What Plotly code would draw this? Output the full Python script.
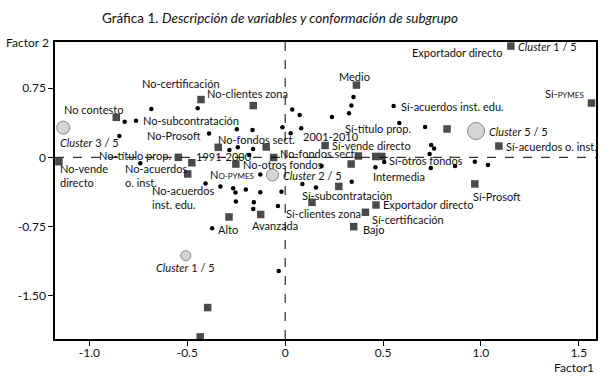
import plotly.graph_objects as go

# ---------------- data ----------------
# category squares (modalities)
sq_x = [1.153, 1.565, 0.827, 1.092, 0.969, 0.204, 0.364, -0.059, -0.252, 0.374,
        0.463, 0.494, 0.337, 0.274, 0.137, -0.125, 0.464, 0.410, 0.350, -0.287,
        -0.396, -0.434, -0.430, -0.163, -0.863, -1.156, -0.546, -0.477, -0.498,
        -0.342, -0.097]
sq_y = [1.206, 0.588, 0.307, 0.122, -0.289, 0.128, 0.783, -0.002, -0.073, 0.014,
        0.009, 0.009, -0.073, -0.316, -0.488, -0.620, -0.517, -0.596, -0.752, -0.647,
        -1.629, -1.947, 0.626, 0.561, 0.433, -0.048, 0.000, -0.059, -0.181,
        0.108, 0.112]
sq_labels = ["Exportador directo", "Sí-<span style='font-size:8px'>PYMES</span>", "",
             "Sí-acuerdos o. inst.", "Sí-Prosoft", "Sí-vende directo", "Medio",
             "No-fondos sect.", "No-otros fondos", "", "", "", "", "",
             "Sí-subcontratación", "Avanzada", "Exportador directo", "Sí-certificación",
             "Bajo", "", "", "", "No-clientes zona", "", "No contesto",
             "No-vende<br>directo", "No-título prop.", "1991-2000",
             "No-acuerdos<br>inst. edu.", "No-fondos sect.", ""]

# individual points (dots)
dot_x = [0.554, 0.349, 0.338, 0.326, 0.239, 0.074, 0.036, -0.014, 0.028, 0.082,
         0.583, 0.715, 0.746, 0.761, 0.738, 0.744, 0.868, 0.969, 1.036, 0.506,
         0.461, 0.186, 0.340, 0.088, 0.157, -0.037, -0.127, -0.407, -0.331, -0.266,
         -0.254, -0.201, -0.127, -0.019, -0.252, -0.160, -0.163, -0.373, -0.033,
         -0.740, -0.684, -0.447, -0.820, -0.762, -0.847, -0.389, -0.247, -0.167,
         -0.285, -0.242, -0.164, -0.184]
dot_y = [0.556, 0.653, 0.561, 0.477, 0.437, 0.458, 0.518, 0.325, 0.260, 0.314,
         0.372, 0.329, 0.133, 0.095, 0.036, -0.116, -0.094, -0.048, -0.083, -0.051,
         -0.108, -0.094, -0.264, -0.289, -0.327, -0.528, -0.186, -0.284, -0.316, -0.336,
         -0.381, -0.349, -0.379, -0.373, -0.479, -0.488, -0.560, -0.769, -1.232,
         -0.065, 0.523, 0.531, 0.386, 0.397, 0.231, 0.258, 0.303, 0.296,
         0.079, 0.108, 0.090, 0.025]
dot_labels = ["Sí-acuerdos inst. edu.", "", "", "", "", "", "", "", "2001-2010", "",
              "", "Sí-título prop.", "", "", "", "", "", "", "", "Sí-otros fondos",
              "Intermedia", "", "", "", "", "Sí-clientes zona",
              "N<span style='font-size:8px'>O-PYMES</span>", "", "", "",
              "", "", "", "", "", "", "", "Alto", "",
              "No-acuerdos<br>o. inst.", "", "No-certificación", "", "No-subcontratación",
              "", "No-Prosoft", "", "", "", "", "", ""]

# cluster centroids
cl_x = [-1.134, -0.065, 0.975, -0.508]
cl_y = [0.321, -0.192, 0.285, -1.066]
cl_labels = ["<i>Cluster</i> 3 / 5", "<i>Cluster</i> 2 / 5",
             "<i>Cluster</i> 5 / 5", "<i>Cluster</i> 1 / 5"]

x_ticks = [-1.0, -0.5, 0, 0.5, 1.0, 1.5]
x_ticktext = ["-1.0", "-0.5", "0", "0.5", "1.0", "1.5"]
y_ticks = [0.75, 0, -0.75, -1.5]
y_ticktext = ["0.75", "0", "-0.75", "-1.50"]

# ---------------- label placement (pixels: xanchor, xshift, yshift) ----------------
sq_pos = {
    0: ("right", -7, -6), 1: ("right", -6, 10), 3: ("left", 5, 0), 4: ("left", -4, -13),
    5: ("left", 5, 0), 6: ("center", -2, 9), 7: ("left", 4, 4), 8: ("left", 5, 0),
    14: ("left", -12, 7), 15: ("left", -11, -11), 16: ("left", 5, 0), 17: ("left", 5, -7),
    18: ("left", 7, -3), 22: ("left", 4, 6), 24: ("right", 9, 8), 25: ("left", -1, -14),
    26: ("right", -5, 2), 27: ("left", 2, 6), 28: ("left", -38, -24), 29: ("left", -2, 8),
}
dot_pos = {
    0: ("left", 5, 0), 8: ("left", 10, -3), 11: ("right", -12, -2), 19: ("left", 3, 2),
    20: ("left", -4, -9), 25: ("left", 6, -7), 26: ("right", -4, 0), 37: ("left", 4, -1),
    39: ("left", -17, -12), 41: ("center", -17, 25), 43: ("left", 5, 0), 45: ("right", -6, -2),
}
cl_pos = {0: ("left", -5, -15), 1: ("left", 9, 0), 2: ("left", 11, 0), 3: ("center", 0, -12)}
cl_size = [13, 12, 17, 10]

FONT = "Lato"
LBL = dict(family=FONT, size=11, color="#111")

fig = go.Figure()
fig.add_trace(go.Scatter(x=sq_x, y=sq_y, mode="markers",
                         marker=dict(symbol="square", size=7.5, color="#4a4a4a"),
                         hoverinfo="skip", showlegend=False))
fig.add_trace(go.Scatter(x=dot_x, y=dot_y, mode="markers",
                         marker=dict(symbol="circle", size=4.5, color="#000"),
                         hoverinfo="skip", showlegend=False))
fig.add_trace(go.Scatter(x=cl_x, y=cl_y, mode="markers",
                         marker=dict(symbol="circle", size=cl_size, color="#c4c4c4",
                                     line=dict(color="#555", width=1)),
                         hoverinfo="skip", showlegend=False))

ann = []
def add_labels(xs, ys, labels, pos):
    for i, (anchor, dx, dy) in pos.items():
        ann.append(dict(x=xs[i], y=ys[i], xref="x", yref="y", text=labels[i],
                        showarrow=False, xanchor=anchor, yanchor="middle",
                        xshift=dx, yshift=dy, font=LBL, align="left"))

add_labels(sq_x, sq_y, sq_labels, sq_pos)
add_labels(dot_x, dot_y, dot_labels, dot_pos)
add_labels(cl_x, cl_y, cl_labels, cl_pos)
# extra cluster label near the top-right square
ann.append(dict(x=sq_x[0], y=sq_y[0], xref="x", yref="y", text="<i>Cluster</i> 1 / 5",
                showarrow=False, xanchor="left", yanchor="middle", xshift=5, yshift=0, font=LBL))

fig.update_layout(
    title=dict(text="Gráfica 1. <i>Descripción de variables y conformación de subgrupo</i>",
               x=0.462, xanchor="center", y=0.952, yanchor="middle",
               font=dict(family=FONT, size=13.5, color="#111")),
)
ann.append(dict(x=0, y=1, xref="paper", yref="paper", text="Factor 2", showarrow=False,
                xanchor="right", yanchor="middle", xshift=-4, yshift=0,
                font=dict(family=FONT, size=12, color="#111")))
ann.append(dict(x=1, y=0, xref="paper", yref="paper", text="Factor1", showarrow=False,
                xanchor="right", yanchor="middle", xshift=0, yshift=-28,
                font=dict(family=FONT, size=12, color="#111")))

shapes = [
    dict(type="line", xref="x", yref="paper", x0=0, x1=0, y0=0, y1=1,
         line=dict(color="#000", width=1, dash="dash")),
    dict(type="line", xref="paper", yref="y", x0=0, x1=1, y0=0, y1=0,
         line=dict(color="#000", width=1, dash="dash")),
]

fig.update_layout(
    width=606, height=380,
    margin=dict(l=55, r=8, t=42, b=41),
    paper_bgcolor="white", plot_bgcolor="white",
    annotations=ann, shapes=shapes,
    xaxis=dict(range=[-1.176, 1.588], tickvals=x_ticks, ticktext=x_ticktext,
               showgrid=False, zeroline=False, showline=True, mirror=True,
               linecolor="#000", linewidth=1.5, ticks="outside", ticklen=5,
               ticklabelstandoff=-3,
               tickcolor="#000", tickfont=dict(family=FONT, size=12, color="#111")),
    yaxis=dict(range=[-1.97, 1.25], tickvals=y_ticks, ticktext=y_ticktext,
               showgrid=False, zeroline=False, showline=True, mirror=True,
               linecolor="#000", linewidth=1.5, ticks="outside", ticklen=5,
               tickcolor="#000", tickfont=dict(family=FONT, size=12, color="#111")),
)

fig.write_html("out.html", config={"displayModeBar": False},
               post_script="document.body.style.margin='0';")
